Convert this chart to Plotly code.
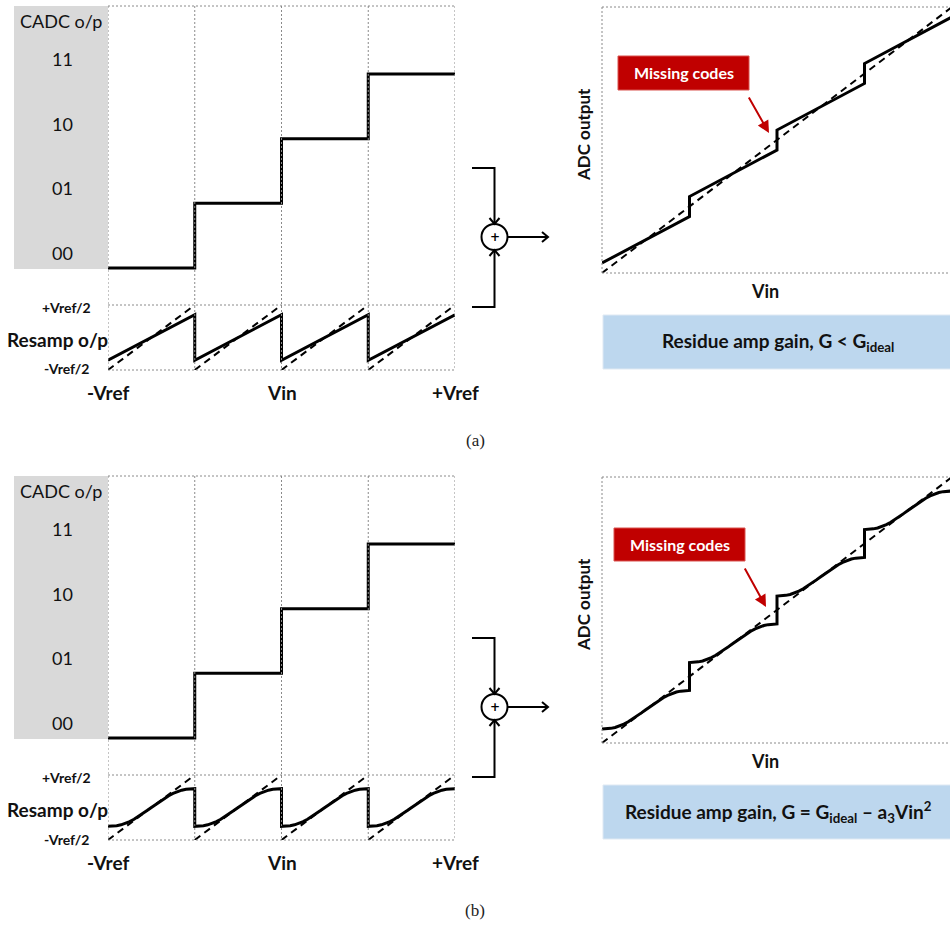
import plotly.graph_objects as go

W, H = 950, 926

# ---------------- data ----------------
vin_edges = [-1.0, -0.5, 0.0, 0.5, 1.0]          # -Vref ... +Vref
cadc_codes = [0, 1, 2, 3, 3]                      # coarse ADC code on each sub-range
code_labels = ["00", "01", "10", "11"]
seg_centers = [-0.75, -0.25, 0.25, 0.75]          # centre of each coarse sub-range
vin_tick_vals = [-1.0, 0.0, 1.0]
vin_tick_text = ["-Vref", "Vin", "+Vref"]

# residue amp output over one sub-range (u: normalised position in the sub-range)
u_lin = [-0.5, 0.5]
res_low_gain = [-0.35, 0.35]                      # G < G_ideal

u_nl = [-0.5, -0.45, -0.4, -0.35, -0.3, -0.25, -0.2, -0.15, -0.1, -0.05, 0.0,
        0.05, 0.1, 0.15, 0.2, 0.25, 0.3, 0.35, 0.4, 0.45, 0.5]
res_nonlinear = [-0.29, -0.288, -0.28, -0.266, -0.245, -0.216, -0.18, -0.139, -0.094, -0.047, 0.0,
                 0.047, 0.094, 0.139, 0.18, 0.216, 0.245, 0.266, 0.28, 0.288, 0.29]

ideal_u = [-0.5, 0.5]

panels = [
    dict(tag="(a)", off=0, u=u_lin, r=res_low_gain,
         caption="Residue amp gain, G &lt; G<sub>ideal</sub>"),
    dict(tag="(b)", off=470, u=u_nl, r=res_nonlinear,
         caption="Residue amp gain, G = G<sub>ideal</sub> \u2013 a<sub>3</sub>Vin<sup>2</sup>"),
]

FONT = "Lato"
INK = "#111111"
DOT = "#8a8a8a"


def px(x):
    return x / W


def py(y):
    return 1 - y / H


def ydom(top, bottom):
    return [1 - bottom / H, 1 - top / H]


def xdom(left, right):
    return [left / W, min(right / W, 1.0)]


fig = go.Figure()
layout = dict(width=W, height=H, margin=dict(l=0, r=0, t=0, b=0),
              paper_bgcolor="white", plot_bgcolor="rgba(0,0,0,0)",
              showlegend=False, shapes=[], annotations=[])

hidden = dict(showgrid=False, zeroline=False, showticklabels=False,
              showline=False, ticks="", fixedrange=True)

shapes = layout["shapes"]
annos = layout["annotations"]


def path_px(points, color="black", width=2):
    d = "M " + " L ".join(f"{px(x):.5f},{py(y):.5f}" for x, y in points)
    shapes.append(dict(type="path", path=d, xref="paper", yref="paper",
                       line=dict(color=color, width=width)))


def label(text, x, y, size=17, xref="paper", yref="paper", color=INK, family=FONT, **kw):
    annos.append(dict(text=text, x=x, y=y, xref=xref, yref=yref, showarrow=False,
                      xanchor="center", yanchor="middle",
                      font=dict(family=family, size=size, color=color), **kw))


ax_i = 1
for p in panels:
    o = p["off"]
    xl, xr = ax_i, ax_i + 1
    yc, yres, yadc = ax_i, ax_i + 1, ax_i + 2
    ax_i_next = ax_i + 3

    def an(n):
        return "" if n == 1 else str(n)

    xL, xR = "x" + an(xl), "x" + an(xr)
    yC, yRs, yA = "y" + an(yc), "y" + an(yres), "y" + an(yadc)

    # left: coarse ADC code and residue amp output share the Vin axis
    layout["xaxis" + an(xl)] = dict(hidden, domain=xdom(108, 455), range=[-1, 1], anchor=yRs)
    layout["yaxis" + an(yc)] = dict(hidden, domain=ydom(6 + o, 305 + o),
                                    range=[-0.572, 4.052], anchor=xL)
    layout["yaxis" + an(yres)] = dict(hidden, domain=ydom(305 + o, 370 + o),
                                      range=[-0.5, 0.5], anchor=xL)
    # right: full ADC transfer curve
    layout["xaxis" + an(xr)] = dict(hidden, domain=xdom(602, 950),
                                    range=[-1, -1 + 348 / 175], anchor=yA)
    layout["yaxis" + an(yadc)] = dict(hidden, domain=ydom(7 + o, 273 + o),
                                      range=[0, 4], anchor=xR)

    # grey code column
    shapes.append(dict(type="rect", xref="paper", yref="paper", layer="below",
                       x0=px(14), x1=px(108), y0=py(6 + o), y1=py(269 + o),
                       fillcolor="#d9d9d9", line=dict(width=0)))

    # dotted grid of the left panel
    for v in vin_edges:
        shapes.append(dict(type="line", xref=xL, yref="paper", x0=v, x1=v,
                           y0=py(6 + o), y1=py(370 + o),
                           line=dict(color=DOT, width=1, dash="2px,2px")))
    for yy in (6, 305, 370):
        shapes.append(dict(type="line", xref=xL, yref="paper", x0=-1, x1=1,
                           y0=py(yy + o), y1=py(yy + o),
                           line=dict(color=DOT, width=1, dash="2px,2px")))
    # dotted frame of the right panel
    for (x0, y0, x1, y1) in ((602, 7, 950, 7), (602, 7, 602, 273), (602, 273, 950, 273)):
        shapes.append(dict(type="line", xref="paper", yref="paper",
                           x0=px(x0), x1=px(x1), y0=py(y0 + o), y1=py(y1 + o),
                           line=dict(color=DOT, width=1, dash="2px,2px")))

    # coarse ADC staircase
    fig.add_trace(go.Scatter(x=vin_edges, y=cadc_codes, mode="lines",
                             line=dict(shape="hv", color="black", width=3),
                             xaxis=xL, yaxis=yC, hoverinfo="skip"))

    # residue amp: ideal (dashed) and actual (solid)
    ix, iy = [], []
    sx, sy = [], []
    for c in seg_centers:
        ix += [c + u * 0.5 for u in ideal_u] + [None]
        iy += list(ideal_u) + [None]
        sx += [c + u * 0.5 for u in p["u"]]
        sy += list(p["r"])
    fig.add_trace(go.Scatter(x=ix, y=iy, mode="lines",
                             line=dict(color="black", width=2, dash="7px,5px"),
                             xaxis=xL, yaxis=yRs, hoverinfo="skip"))
    fig.add_trace(go.Scatter(x=sx, y=sy, mode="lines",
                             line=dict(color="black", width=3),
                             xaxis=xL, yaxis=yRs, hoverinfo="skip"))

    # ADC output = coarse code + residue
    ax_, ay_ = [], []
    for i, c in enumerate(seg_centers):
        ax_ += [c + u * 0.5 for u in p["u"]]
        ay_ += [cadc_codes[i] + 0.5 + r for r in p["r"]]
    fig.add_trace(go.Scatter(x=[vin_edges[0], vin_edges[-1]], y=[0, 4], mode="lines",
                             line=dict(color="black", width=2, dash="7px,5px"),
                             xaxis=xR, yaxis=yA, hoverinfo="skip"))
    fig.add_trace(go.Scatter(x=ax_, y=ay_, mode="lines",
                             line=dict(color="black", width=3),
                             xaxis=xR, yaxis=yA, hoverinfo="skip"))

    # left panel labels
    label("CADC o/p", px(61), py(21 + o), size=18)
    for k, lab in enumerate(code_labels):
        label(lab, px(62), k, yref=yC, yshift=15, size=18)
    label("<b>+Vref/2</b>", px(66), py(307 + o), size=14)
    label("<b>Resamp o/p</b>", px(57), py(339 + o), size=19)
    label("<b>-Vref/2</b>", px(66), py(369 + o), size=14)
    for v, t in zip(vin_tick_vals, vin_tick_text):
        label(f"<b>{t}</b>", v, py(392 + o), xref=xL, size=19)

    # summing junction
    shapes.append(dict(type="circle", xref="paper", yref="paper",
                       x0=px(481.5), x1=px(507.5), y0=py(224 + o), y1=py(250 + o),
                       line=dict(color="black", width=2), fillcolor="white"))
    label("<b>+</b>", px(494.5), py(237 + o), size=12, family="DejaVu Sans", color="black")
    path_px([(472, 168 + o), (494.5, 168 + o), (494.5, 224 + o)])
    path_px([(489.5, 218 + o), (494.5, 224 + o), (499.5, 218 + o)])
    path_px([(472, 307 + o), (494.5, 307 + o), (494.5, 250 + o)])
    path_px([(489.5, 256 + o), (494.5, 250 + o), (499.5, 256 + o)])
    path_px([(507.5, 237 + o), (548, 237 + o)])
    path_px([(542, 232 + o), (548, 237 + o), (542, 242 + o)])

    # right panel labels
    label("<b>ADC output</b>", px(583), py(135 + o), size=17, textangle=-90)
    label("<b>Vin</b>", px(765), py(291 + o), size=18)

    # "Missing codes" callout
    bx0, bx1, by0, by1 = (618, 749, 56, 90) if o == 0 else (614, 745, 528 - o, 561 - o)
    shapes.append(dict(type="rect", xref="paper", yref="paper",
                       x0=px(bx0), x1=px(bx1), y0=py(by0 + o), y1=py(by1 + o),
                       fillcolor="#c00000", line=dict(color="#d9534f", width=1)))
    label("<b>Missing codes</b>", px((bx0 + bx1) / 2), py((by0 + by1) / 2 + o),
          size=16, color="white")
    hx, hy, tx, ty = (769, 133, 748, 96) if o == 0 else (766, 607 - o, 744, 567 - o)
    annos.append(dict(text="", x=px(hx), y=py(hy + o), xref="paper", yref="paper",
                      ax=tx - hx, ay=ty - hy, showarrow=True, arrowhead=2, arrowsize=1.2,
                      arrowwidth=2, arrowcolor="#c00000"))

    # caption box
    shapes.append(dict(type="rect", xref="paper", yref="paper", layer="below",
                       x0=px(603), x1=px(960), y0=py(315 + o), y1=py(369 + o),
                       fillcolor="#bdd7ee", line=dict(color="#dfe9f3", width=1)))
    label(f"<b>{p['caption']}</b>", px(778), py(342 + o), size=19)

    # sub-figure tag
    label(p["tag"], px(475), py(440 + o), size=17, family="Liberation Serif", color="#222")

    ax_i = ax_i_next

fig.update_layout(**layout)
fig.write_html("out.html")
